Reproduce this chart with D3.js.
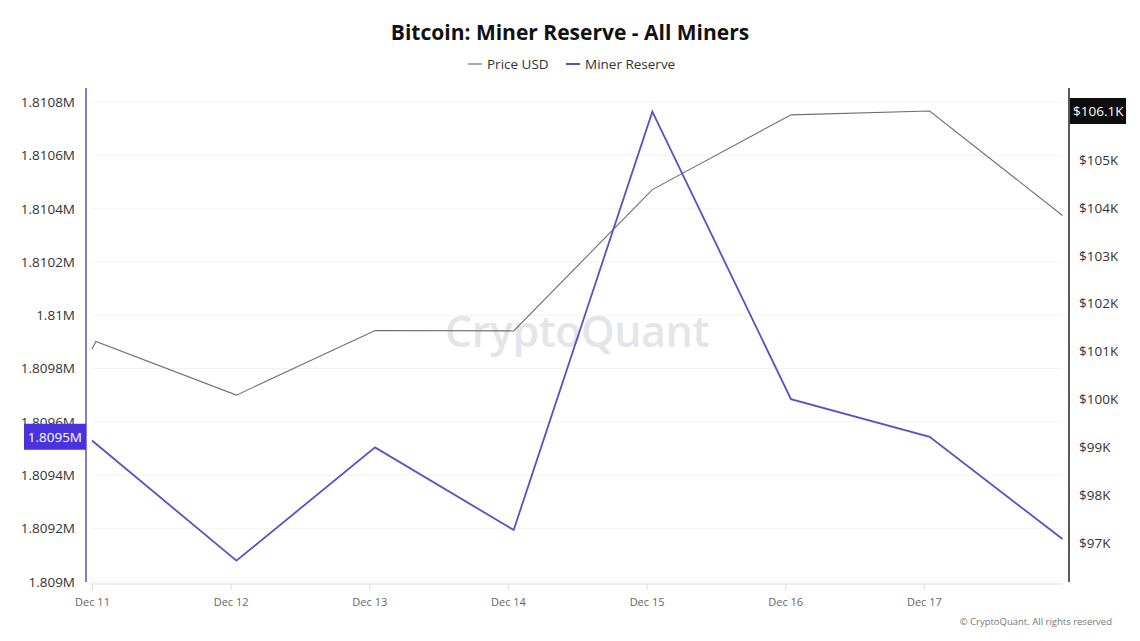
<!DOCTYPE html>
<html>
<head>
<meta charset="utf-8">
<script src="https://cdn.jsdelivr.net/npm/d3@7"></script>
<style>
  html, body { margin: 0; padding: 0; background: #fff; }
  svg { display: block; font-family: "Open Sans", "Noto Sans", sans-serif; }
</style>
</head>
<body>
<svg id="chart" width="1140" height="641"></svg>
<script>
// ---- data ----
const priceDates = ["2024-12-11T00:00", "2024-12-11T00:40", "2024-12-12T01:00", "2024-12-13T01:00", "2024-12-14T01:00", "2024-12-15T01:00", "2024-12-16T01:00", "2024-12-17T01:00", "2024-12-18T00:00"];
const priceValues = [101050, 101210, 100090, 101440, 101430, 104380, 105940, 106020, 103840];
const reserveDates = ["2024-12-11T00:00", "2024-12-12T01:00", "2024-12-13T01:00", "2024-12-14T01:00", "2024-12-15T01:00", "2024-12-16T01:00", "2024-12-17T01:00", "2024-12-18T00:00"];
const reserveValues = [1809530, 1809079, 1809504, 1809194, 1810764, 1809685, 1809544, 1809160];
const xTickDates = ["2024-12-11", "2024-12-12", "2024-12-13", "2024-12-14", "2024-12-15", "2024-12-16", "2024-12-17"];
const xTickLabels = ["Dec 11", "Dec 12", "Dec 13", "Dec 14", "Dec 15", "Dec 16", "Dec 17"];
const leftTicks = [1809000, 1809200, 1809400, 1809600, 1809800, 1810000, 1810200, 1810400, 1810600, 1810800];
const leftTickLabels = ["1.809M", "1.8092M", "1.8094M", "1.8096M", "1.8098M", "1.81M", "1.8102M", "1.8104M", "1.8106M", "1.8108M"];
const rightTicks = [97000, 98000, 99000, 100000, 101000, 102000, 103000, 104000, 105000];
const rightTickLabels = ["$97K", "$98K", "$99K", "$100K", "$101K", "$102K", "$103K", "$104K", "$105K"];
const seriesNames = ["Price USD", "Miner Reserve"];
const reserveBadge = "1.8095M";
const priceBadge = "$106.1K";
const badgeIndexReserve = 6;
const badgeIndexPrice = 7;

// ---- layout ----
const svg = d3.select("#chart");
const plot = { left: 92, right: 1062.5, top: 88, bottom: 582 };
const parse = d3.timeParse("%Y-%m-%dT%H:%M");
const parseDay = d3.timeParse("%Y-%m-%d");

const x = d3.scaleTime()
  .domain([parse("2024-12-11T00:00"), parse("2024-12-18T00:00")])
  .range([plot.left, plot.right]);
const yL = d3.scaleLinear().domain([1809000, 1810853]).range([581.7, plot.top]);
const yR = d3.scaleLinear().domain([96190, 106500]).range([plot.bottom, plot.top]);

const purple = "#5a4fc8";
const grey = "#6e6e6e";

// gridlines
svg.append("g").selectAll("line").data(leftTicks).join("line")
  .attr("x1", plot.left).attr("x2", plot.right)
  .attr("y1", d => yL(d)).attr("y2", d => yL(d))
  .attr("stroke", "#f3f3ef").attr("stroke-width", 1);

// watermark
svg.append("text").attr("x", 577).attr("y", 347).attr("text-anchor", "middle")
  .attr("font-size", 43).attr("font-weight", 600).attr("fill", "#dcdce2").attr("opacity", 0.75)
  .attr("letter-spacing", -0.5)
  .text("CryptoQuant");

// title
svg.append("text").attr("x", 570).attr("y", 40).attr("text-anchor", "middle")
  .attr("font-size", 21).attr("font-weight", 700).attr("fill", "#111")
  .text("Bitcoin: Miner Reserve - All Miners");

// legend
const legend = svg.append("g").attr("font-size", 13.5).attr("fill", "#333");
const legendItems = [
  { name: seriesNames[0], color: grey, x: 468 },
  { name: seriesNames[1], color: purple, x: 566 }
];
legendItems.forEach(it => {
  legend.append("line").attr("x1", it.x).attr("x2", it.x + 14).attr("y1", 64).attr("y2", 64)
    .attr("stroke", it.color).attr("stroke-width", it.color === purple ? 2 : 1.2);
  legend.append("text").attr("x", it.x + 19).attr("y", 69).text(it.name);
});

// x axis
const xAxis = d3.axisBottom(x)
  .tickValues(xTickDates.map(parseDay))
  .tickFormat((d, i) => xTickLabels[i])
  .tickSize(6).tickPadding(8);
const gx = svg.append("g").attr("transform", `translate(0,${plot.bottom + 2})`).call(xAxis);
gx.select(".domain").attr("stroke", "#dcdcdc").attr("d", `M${plot.left - 2},0H${plot.right}`);
gx.selectAll(".tick line").attr("stroke", "#dcdcdc");
gx.selectAll(".tick text").attr("fill", "#666").attr("font-size", 11)
  .attr("font-family", "\"Open Sans\", sans-serif");

// left axis
const yAxisL = d3.axisLeft(yL).tickValues(leftTicks)
  .tickFormat((d, i) => leftTickLabels[i]).tickSize(0).tickPadding(11);
const gl = svg.append("g").attr("transform", `translate(86,0)`).call(yAxisL);
gl.select(".domain").attr("stroke", purple).attr("stroke-width", 1.5).attr("d", `M0,${plot.top}V${plot.bottom}`);
gl.selectAll(".tick text").attr("fill", "#333").attr("font-size", 13.5)
  .attr("font-family", "\"Open Sans\", sans-serif");

// right axis
const yAxisR = d3.axisRight(yR).tickValues(rightTicks)
  .tickFormat((d, i) => rightTickLabels[i]).tickSize(0).tickPadding(10);
const gr = svg.append("g").attr("transform", `translate(1069,0)`).call(yAxisR);
gr.select(".domain").attr("stroke", "#222").attr("stroke-width", 1.5).attr("d", `M0,${plot.top}V${plot.bottom}`);
gr.selectAll(".tick text").attr("fill", "#333").attr("font-size", 13.5)
  .attr("font-family", "\"Open Sans\", sans-serif");

// lines
const priceData = priceDates.map((d, i) => ({ t: parse(d), v: priceValues[i] }));
const reserveData = reserveDates.map((d, i) => ({ t: parse(d), v: reserveValues[i] }));

svg.append("path").datum(priceData)
  .attr("fill", "none").attr("stroke", grey).attr("stroke-width", 1.1)
  .attr("d", d3.line().x(d => x(d.t)).y(d => yR(d.v)));
svg.append("path").datum(reserveData)
  .attr("fill", "none").attr("stroke", purple).attr("stroke-width", 1.8)
  .attr("stroke-linejoin", "miter")
  .attr("d", d3.line().x(d => x(d.t)).y(d => yL(d.v)));

// badges
const by1 = yL(reserveValues[badgeIndexReserve]);
svg.append("rect").attr("x", 24).attr("y", by1 - 13).attr("width", 62).attr("height", 26)
  .attr("fill", "#4a33dd");
svg.append("text").attr("x", 82).attr("y", by1 + 5).attr("text-anchor", "end")
  .attr("font-size", 13.5).attr("fill", "#fff").text(reserveBadge);

const by2 = yR(priceValues[badgeIndexPrice]);
svg.append("rect").attr("x", 1070).attr("y", by2 - 13).attr("width", 56).attr("height", 26)
  .attr("fill", "#0d0d0d");
svg.append("text").attr("x", 1073).attr("y", by2 + 5)
  .attr("font-size", 13.5).attr("fill", "#fff").text(priceBadge);

// copyright
svg.append("text").attr("x", 1112).attr("y", 625).attr("text-anchor", "end")
  .attr("font-size", 9.5).attr("fill", "#777").text("© CryptoQuant. All rights reserved");
</script>
</body>
</html>
